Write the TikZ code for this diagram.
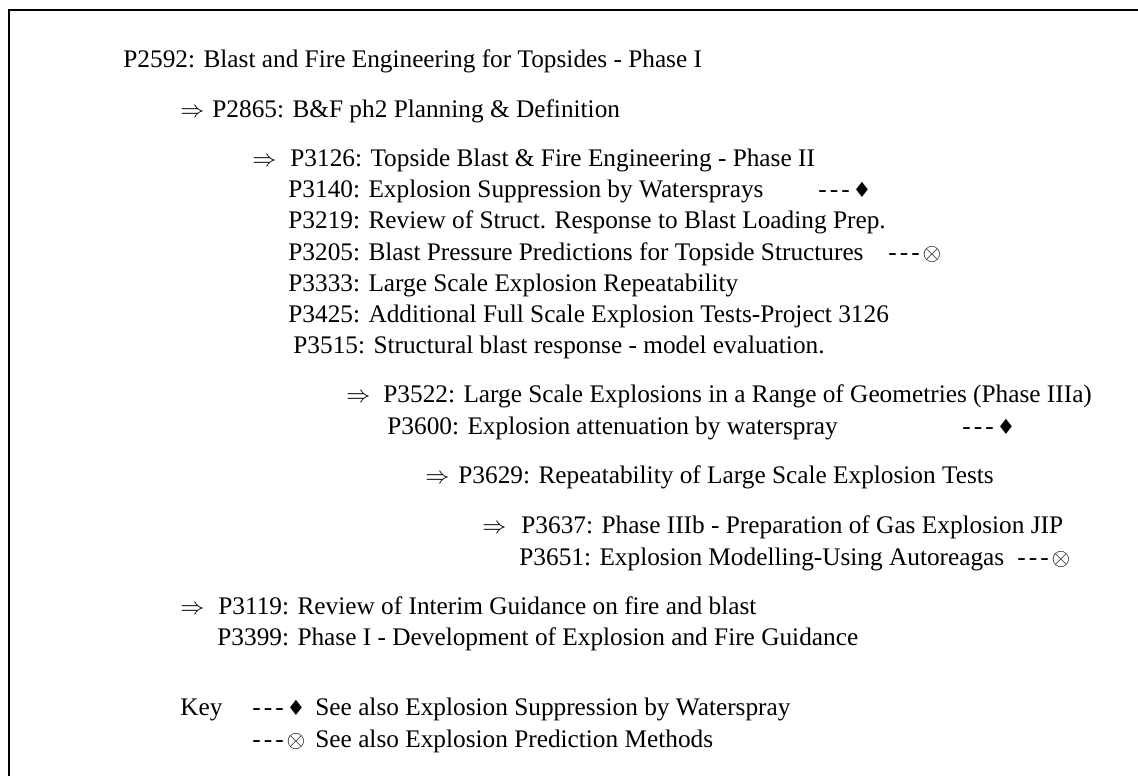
\documentclass[tikz,border=0pt]{standalone}
\usepackage{fontspec}
\usepackage{amssymb}
\setmainfont{Liberation Serif}
\newfontfamily\symbfont{DejaVu Sans}

\newcommand\dashtrio{\mbox{-}\kern1.5pt\mbox{-}\kern1.5pt\mbox{-}\kern1.5pt}
\newcommand\wsmark{\dashtrio{\symbfont\fontsize{10.5}{12}\selectfont ♦}}
\newcommand\pmmark{\dashtrio$\otimes$}

\begin{document}
\begin{tikzpicture}[x=0.5pt, y=-0.5pt,
  entry/.style={anchor=base west, inner sep=0pt, font=\fontsize{12.65}{15}\selectfont},
  frame/.style={line width=1pt},
]
\useasboundingbox (0,0) rectangle (1138,776);

% Frame (only top and left edges inside the page)
\draw[frame] (9,776) -- (9,10) -- (1138,10);

% === Phase I ===
\node[entry] (p2592) at (123,67) {P2592: Blast and Fire Engineering for Topsides - Phase I};

\node[entry] (a2865) at (180,117) {$\Rightarrow$};
\node[entry] (p2865) at (212,117) {P2865: B\&F ph2 Planning \& Definition};

% === Phase II ===
\node[entry] (a3126) at (252,166) {$\Rightarrow$};
\node[entry] (p3126) at (290,166) {P3126: Topside Blast \& Fire Engineering - Phase II};
\node[entry] (p3140) at (288,197) {P3140: Explosion Suppression by Watersprays};
\node[entry] (m3140) at (818,197) {\wsmark};
\node[entry] (p3219) at (288,228) {P3219: Review of Struct. Response to Blast Loading Prep.};
\node[entry] (p3205) at (288,260) {P3205: Blast Pressure Predictions for Topside Structures};
\node[entry] (m3205) at (888,260) {\pmmark};
\node[entry] (p3333) at (288,291) {P3333: Large Scale Explosion Repeatability};
\node[entry] (p3425) at (288,322) {P3425: Additional Full Scale Explosion Tests-Project 3126};
\node[entry] (p3515) at (293,353) {P3515: Structural blast response - model evaluation.};

% === Phase IIIa ===
\node[entry] (a3522) at (346,402) {$\Rightarrow$};
\node[entry] (p3522) at (383,402) {P3522: Large Scale Explosions in a Range of Geometries (Phase IIIa)};
\node[entry] (p3600) at (387,434) {P3600: Explosion attenuation by waterspray};
\node[entry] (m3600) at (962,434) {\wsmark};

\node[entry] (a3629) at (425,483) {$\Rightarrow$};
\node[entry] (p3629) at (458,483) {P3629: Repeatability of Large Scale Explosion Tests};

% === Phase IIIb ===
\node[entry] (a3637) at (482,533) {$\Rightarrow$};
\node[entry] (p3637) at (521,533) {P3637: Phase IIIb - Preparation of Gas Explosion JIP};
\node[entry] (p3651) at (519,565) {P3651: Explosion Modelling-Using Autoreagas};
\node[entry] (m3651) at (1017,565) {\pmmark};

% === Guidance ===
\node[entry] (a3119) at (180,614) {$\Rightarrow$};
\node[entry] (p3119) at (218,614) {P3119: Review of Interim Guidance on fire and blast};
\node[entry] (p3399) at (217,645) {P3399: Phase I - Development of Explosion and Fire Guidance};

% === Key ===
\node[entry] (key) at (180,715) {Key};
\node[entry] (kws) at (252,715) {\wsmark};
\node[entry] (tws) at (315,715) {See also Explosion Suppression by Waterspray};
\node[entry] (kpm) at (252,747) {\pmmark};
\node[entry] (tpm) at (315,747) {See also Explosion Prediction Methods};

\end{tikzpicture}
\end{document}
